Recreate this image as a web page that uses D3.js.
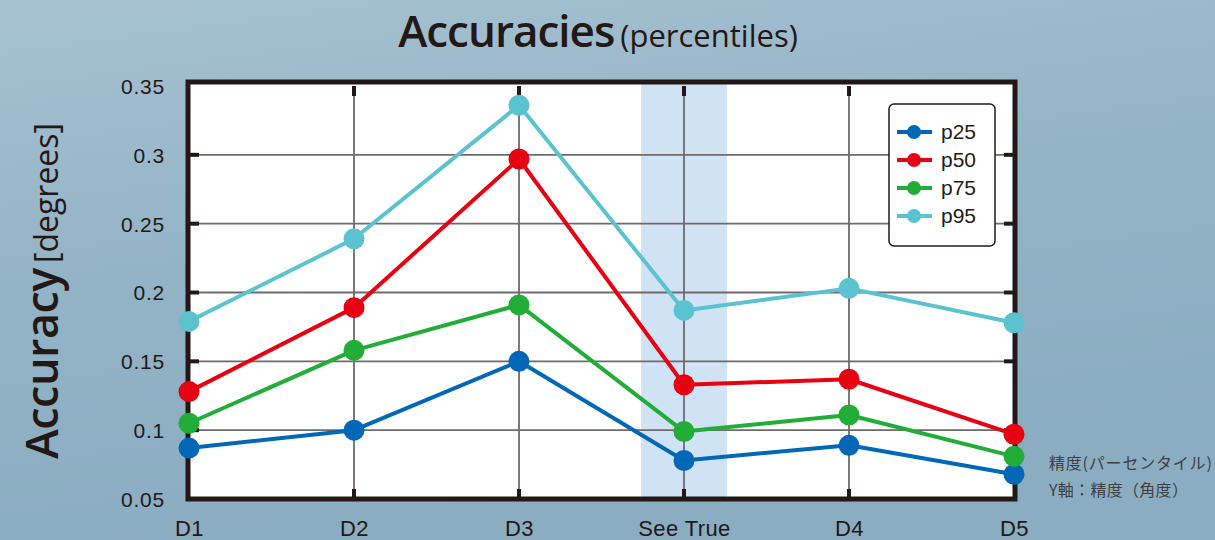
<!DOCTYPE html>
<html><head><meta charset="utf-8">
<script src="https://cdn.jsdelivr.net/npm/d3@7"></script>
<style>body{margin:0;overflow:hidden;}svg{display:block;}</style>
</head><body>
<svg id="c" width="1215" height="540"></svg>
<script>
const categories = ["D1","D2","D3","See True","D4","D5"];
const seriesNames = ["p25","p50","p75","p95"];
const p25 = [0.087,0.100,0.150,0.078,0.089,0.068];
const p50 = [0.128,0.189,0.297,0.133,0.137,0.097];
const p75 = [0.105,0.158,0.191,0.099,0.111,0.081];
const p95 = [0.179,0.239,0.336,0.187,0.203,0.178];
const yTicks = [0.05,0.1,0.15,0.2,0.25,0.3,0.35];
const colors = ["#0068b7","#e60012","#22ac38","#5bc2d0"];
const highlight = "See True";

const svg = d3.select("#c");
const defs = svg.append("defs");
const g0 = defs.append("linearGradient").attr("id","bg").attr("x1",0).attr("y1",0).attr("x2",0.3).attr("y2",1);
g0.append("stop").attr("offset","0").attr("stop-color","#a6c2d2");
g0.append("stop").attr("offset","0.5").attr("stop-color","#93b3c6");
g0.append("stop").attr("offset","1").attr("stop-color","#8badc1");
svg.append("rect").attr("width",1215).attr("height",540).attr("fill","url(#bg)");

const L = 189, R = 1014, T = 86, B = 499;
const x = d3.scalePoint().domain(categories).range([L,R]);
const y = d3.scaleLinear().domain([0.05,0.35]).range([B,T]);

svg.append("rect").attr("x",L).attr("y",T-2).attr("width",R-L).attr("height",B-T+2).attr("fill","#fff");
const step = x.step();
svg.append("rect").attr("x",x(highlight)-step*0.26).attr("y",T-2).attr("width",step*0.52).attr("height",B-T+2).attr("fill","#d0e3f5");

const grid = svg.append("g");
grid.selectAll(".gy").data(yTicks.slice(1,-1)).join("line")
  .attr("x1",L).attr("x2",R).attr("y1",d=>y(d)).attr("y2",d=>y(d))
  .attr("stroke","#6f6a6a").attr("stroke-width",1.8);
grid.selectAll(".gx").data(categories.slice(1,-1)).join("line")
  .attr("y1",T).attr("y2",B).attr("x1",d=>x(d)).attr("x2",d=>x(d))
  .attr("stroke","#6f6a6a").attr("stroke-width",1.8);

const tk = svg.append("g").attr("stroke","#231815").attr("stroke-width",4);
yTicks.slice(1,-1).forEach(v=>{
  tk.append("line").attr("x1",L).attr("x2",L+10).attr("y1",y(v)).attr("y2",y(v));
  tk.append("line").attr("x1",R-10).attr("x2",R).attr("y1",y(v)).attr("y2",y(v));
});
categories.slice(1,-1).forEach(c=>{
  tk.append("line").attr("x1",x(c)).attr("x2",x(c)).attr("y1",T).attr("y2",T+10);
  tk.append("line").attr("x1",x(c)).attr("x2",x(c)).attr("y1",B-10).attr("y2",B);
});

svg.append("rect").attr("x",L-1).attr("y",T-4).attr("width",R-L+2).attr("height",B-T+4)
  .attr("fill","none").attr("stroke","#231815").attr("stroke-width",5);

const data = [p25,p50,p75,p95];
const line = d3.line().x((d,i)=>x(categories[i])).y(d=>y(d));
data.forEach((s,k)=>{
  svg.append("path").datum(s).attr("d",line).attr("fill","none")
    .attr("stroke",colors[k]).attr("stroke-width",4).attr("stroke-linejoin","round");
  svg.append("g").selectAll("circle").data(s).join("circle")
    .attr("cx",(d,i)=>x(categories[i])).attr("cy",d=>y(d)).attr("r",10.5).attr("fill",colors[k]);
});

const axF = "'Liberation Sans', Arial, sans-serif";
const yAxis = d3.axisLeft(y).tickValues(yTicks).tickFormat(d=>String(+d.toFixed(2))).tickSize(0).tickPadding(24);
const ya = svg.append("g").attr("transform",`translate(${L},0)`).call(yAxis);
ya.select(".domain").remove();
ya.selectAll("text").attr("font-family",axF).attr("font-size",21).attr("letter-spacing",0.8).attr("fill","#231815").attr("dy","0.35em");
const xAxis = d3.axisBottom(x).tickSize(0).tickPadding(21);
const xa = svg.append("g").attr("transform",`translate(0,${B})`).call(xAxis);
xa.select(".domain").remove();
xa.selectAll("text").attr("font-family",axF).attr("font-size",22).attr("letter-spacing",0.4).attr("fill","#231815").attr("dy","0.71em");

const tF = "'Open Sans', 'Noto Sans', sans-serif";
const title = svg.append("text").attr("x",598).attr("y",47).attr("text-anchor","middle").attr("fill","#231815").attr("font-family",tF);
title.append("tspan").attr("font-size",44).attr("font-weight",600).attr("letter-spacing",-1).text("Accuracies");
title.append("tspan").attr("font-size",31).attr("dx",6).text("(percentiles)");

const yl = svg.append("text").attr("transform","translate(58,291) rotate(-90)").attr("text-anchor","middle")
  .attr("fill","#231815").attr("font-family",tF);
yl.append("tspan").attr("font-size",45).attr("font-weight",600).attr("letter-spacing",-0.5).text("Accuracy");
yl.append("tspan").attr("font-size",32).attr("dx",5).text("[degrees]");

const lg = svg.append("g").attr("transform","translate(889,104)");
lg.append("rect").attr("width",106).attr("height",142).attr("rx",5).attr("fill","#fff").attr("stroke","#231815").attr("stroke-width",1.5);
seriesNames.forEach((n,k)=>{
  const yy = 28 + k*28;
  lg.append("line").attr("x1",8).attr("x2",43).attr("y1",yy).attr("y2",yy).attr("stroke",colors[k]).attr("stroke-width",4);
  lg.append("circle").attr("cx",25).attr("cy",yy).attr("r",7).attr("fill",colors[k]);
  lg.append("text").attr("x",52).attr("y",yy).attr("dy","0.35em").attr("font-family",axF).attr("font-size",21).attr("fill","#231815").text(n);
});

const jF = "'Noto Sans CJK JP', sans-serif";
svg.append("text").attr("x",1049).attr("y",469).attr("font-family",jF).attr("font-size",16).attr("letter-spacing",0.8).attr("fill","#3f3f3f").text("精度(パーセンタイル)");
svg.append("text").attr("x",1049).attr("y",496).attr("font-family",jF).attr("font-size",16).attr("letter-spacing",0.3).attr("fill","#3f3f3f").text("Y軸：精度（角度）");
</script>
</body></html>
